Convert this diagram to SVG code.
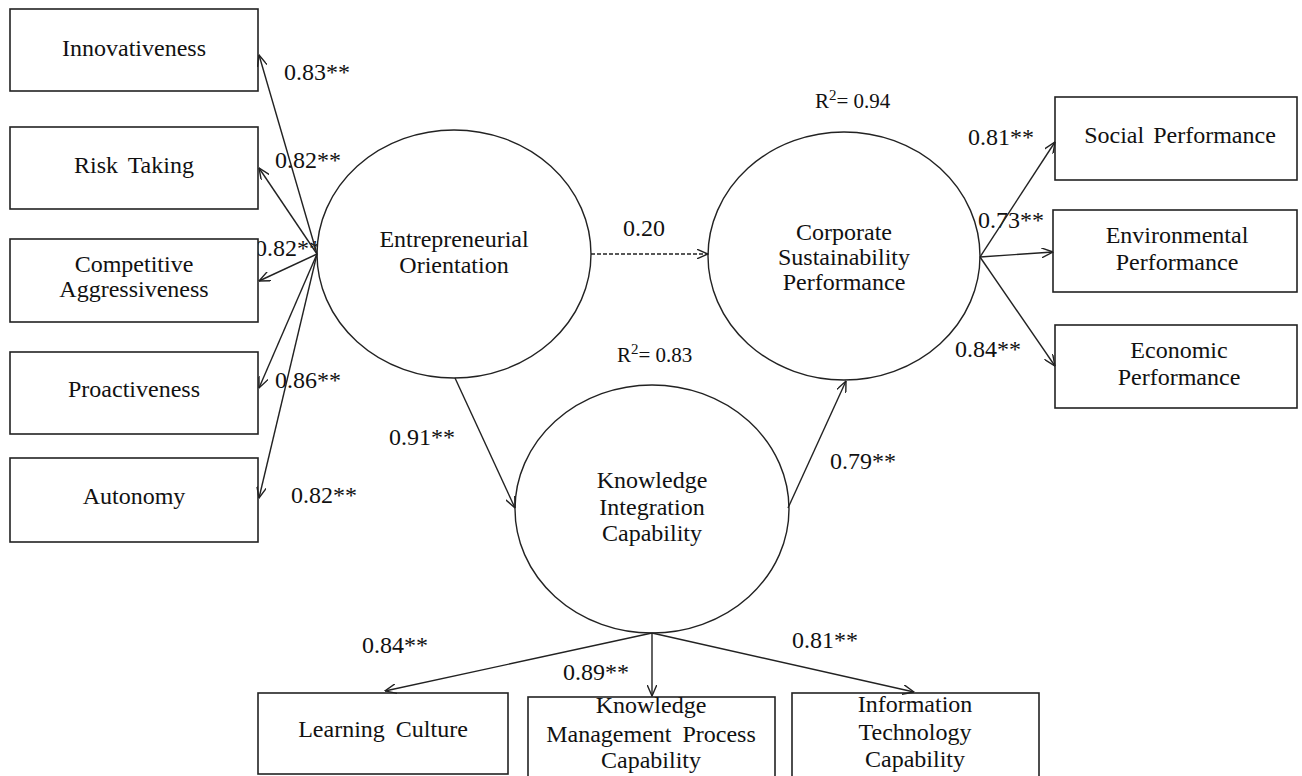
<svg xmlns="http://www.w3.org/2000/svg" width="1302" height="776" viewBox="0 0 1302 776">
<defs>
<style>
text{font-family:"Liberation Serif","Times New Roman",serif;fill:#111;}
.n{font-size:24px;text-anchor:middle;}
.l{font-size:24px;}
.r{font-size:21px;}
.box{fill:#fff;stroke:#222;stroke-width:1.6;}
.ell{fill:#fff;stroke:#222;stroke-width:1.4;}
.c{stroke:#222;stroke-width:1.4;fill:none;marker-end:url(#ah);}
.d{stroke-dasharray:4 2;}
</style>
<marker id="ah" viewBox="0 0 12 10" refX="11.5" refY="5" markerUnits="userSpaceOnUse" markerWidth="12" markerHeight="10" orient="auto">
<path d="M0,0 L11.5,5 L0,10" fill="none" stroke="#222" stroke-width="1.4"/>
</marker>
</defs>
<rect width="1302" height="776" fill="#fff"/>
<g id="labels">
<text class="l" x="284" y="80">0.83**</text>
<text class="l" x="275" y="168">0.82**</text>
<text class="l" x="255" y="256">0.82**</text>
<text class="l" x="275" y="388">0.86**</text>
<text class="l" x="291" y="503">0.82**</text>
<text class="l" x="623" y="236">0.20</text>
<text class="r" x="815" y="108">R<tspan font-size="15" dy="-8">2</tspan><tspan dy="8">= 0.94</tspan></text>
<text class="r" x="617" y="362">R<tspan font-size="15" dy="-8">2</tspan><tspan dy="8">= 0.83</tspan></text>
<text class="l" x="968" y="145">0.81**</text>
<text class="l" x="978" y="228">0.73**</text>
<text class="l" x="955" y="357">0.84**</text>
<text class="l" x="389" y="445">0.91**</text>
<text class="l" x="830" y="469">0.79**</text>
<text class="l" x="362" y="653">0.84**</text>
<text class="l" x="563" y="680">0.89**</text>
<text class="l" x="792" y="648">0.81**</text>
</g>
<g id="nodes">
<g id="innovativeness"><rect class="box" x="10" y="9" width="248" height="82"/><text class="n" x="134" y="56">Innovativeness</text></g>
<g id="risk-taking"><rect class="box" x="10" y="127" width="248" height="82"/><text class="n" x="134" y="173" word-spacing="4">Risk Taking</text></g>
<g id="competitive-aggressiveness"><rect class="box" x="10" y="239" width="248" height="83"/><text class="n" x="134" y="272">Competitive</text><text class="n" x="134" y="297">Aggressiveness</text></g>
<g id="proactiveness"><rect class="box" x="10" y="352" width="248" height="82"/><text class="n" x="134" y="397">Proactiveness</text></g>
<g id="autonomy"><rect class="box" x="10" y="458" width="248" height="84"/><text class="n" x="134" y="504">Autonomy</text></g>
<g id="eo"><ellipse class="ell" cx="454" cy="254" rx="137" ry="124"/><text class="n" x="454" y="247">Entrepreneurial</text><text class="n" x="454" y="273">Orientation</text></g>
<g id="csp"><ellipse class="ell" cx="844" cy="256" rx="136" ry="124"/><text class="n" x="844" y="240">Corporate</text><text class="n" x="844" y="265">Sustainability</text><text class="n" x="844" y="290">Performance</text></g>
<g id="kic"><ellipse class="ell" cx="652" cy="509" rx="137" ry="124"/><text class="n" x="652" y="488">Knowledge</text><text class="n" x="652" y="515">Integration</text><text class="n" x="652" y="541">Capability</text></g>
<g id="social"><rect class="box" x="1055" y="97" width="242" height="83"/><text class="n" x="1180" y="143" word-spacing="3">Social Performance</text></g>
<g id="environmental"><rect class="box" x="1053" y="210" width="244" height="82"/><text class="n" x="1177" y="243">Environmental</text><text class="n" x="1177" y="270">Performance</text></g>
<g id="economic"><rect class="box" x="1055" y="325" width="242" height="83"/><text class="n" x="1179" y="358">Economic</text><text class="n" x="1179" y="385">Performance</text></g>
<g id="learning"><rect class="box" x="258" y="693" width="250" height="81"/><text class="n" x="383" y="737" word-spacing="5">Learning Culture</text></g>
<g id="kmpc"><rect class="box" x="528" y="697" width="247" height="80"/><text class="n" x="651" y="713">Knowledge</text><text class="n" x="651" y="742" word-spacing="5">Management Process</text><text class="n" x="651" y="768">Capability</text></g>
<g id="itc"><rect class="box" x="792" y="693" width="247" height="84"/><text class="n" x="915" y="712">Information</text><text class="n" x="915" y="740">Technology</text><text class="n" x="915" y="767">Capability</text></g>
</g>
<g id="connectors">
<line class="c" x1="317" y1="254" x2="259" y2="55"/>
<line class="c" x1="317" y1="254" x2="259" y2="168"/>
<line class="c" x1="317" y1="254" x2="259" y2="281"/>
<line class="c" x1="317" y1="254" x2="259" y2="388"/>
<line class="c" x1="317" y1="254" x2="259" y2="498"/>
<line class="c d" x1="591" y1="254" x2="708" y2="254"/>
<line class="c" x1="455" y1="378" x2="515" y2="508"/>
<line class="c" x1="788" y1="508" x2="846" y2="381"/>
<line class="c" x1="980" y1="257" x2="1055" y2="142"/>
<line class="c" x1="980" y1="257" x2="1053" y2="252"/>
<line class="c" x1="980" y1="257" x2="1055" y2="366"/>
<line class="c" x1="652" y1="633" x2="385" y2="691"/>
<line class="c" x1="652" y1="633" x2="652" y2="696"/>
<line class="c" x1="652" y1="633" x2="914" y2="692"/>
</g>
</svg>
